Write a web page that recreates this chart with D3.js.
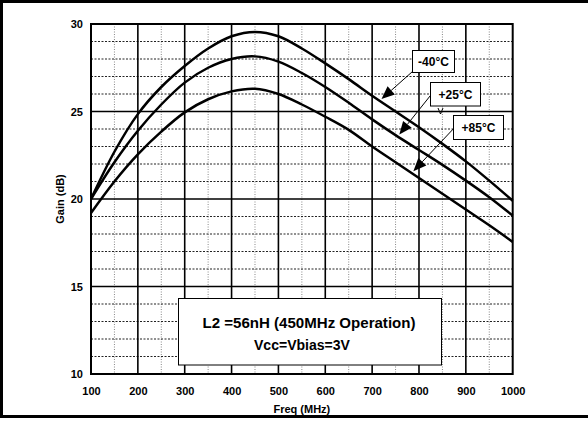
<!DOCTYPE html>
<html>
<head>
<meta charset="utf-8">
<script src="https://cdn.jsdelivr.net/npm/d3@7"></script>
<style>
  html, body { margin: 0; padding: 0; background: #fff; }
  svg { display: block; }
  text { font-family: "Liberation Sans", Arial, sans-serif; }
</style>
</head>
<body>
<svg id="chart" width="588" height="422"></svg>
<script>
// ---- data ----
const freq = [100,150,200,250,300,350,400,450,500,550,600,650,700,750,800,850,900,950,1000];
const gainM40 = [20.0,22.7,24.85,26.4,27.6,28.6,29.3,29.55,29.3,28.6,27.75,26.85,25.9,25.0,24.1,23.15,22.15,21.05,19.9];
const gainP25 = [20.0,22.1,23.9,25.4,26.65,27.5,28.0,28.15,27.85,27.2,26.4,25.5,24.55,23.65,22.8,21.95,21.05,20.1,19.05];
const gainP85 = [19.2,21.0,22.55,23.85,24.95,25.7,26.15,26.3,26.0,25.4,24.7,23.95,23.0,22.1,21.2,20.3,19.4,18.5,17.55];
const seriesNames = ["-40°C", "+25°C", "+85°C"];
const xTicks = [100,200,300,400,500,600,700,800,900,1000];
const yTicks = [10,15,20,25,30];
const xTitle = "Freq (MHz)";
const yTitle = "Gain (dB)";
const noteLines = ["L2 =56nH (450MHz Operation)", "Vcc=Vbias=3V"];

// ---- layout ----
const svg = d3.select("#chart");
const L = 91, R = 512.7, T = 24, B = 374;
const x = d3.scaleLinear().domain([100, 1000]).range([L, R]);
const y = d3.scaleLinear().domain([10, 30]).range([B, T]);

// outer frame (left, top, bottom)
svg.append("path")
  .attr("d", `M590,1.5 H1.5 V416.5 H590`)
  .attr("fill", "none").attr("stroke", "#000").attr("stroke-width", 3);

// minor grid
const g = svg.append("g");
d3.range(150, 1000, 100).forEach(v => {
  g.append("line").attr("x1", x(v)).attr("x2", x(v)).attr("y1", T).attr("y2", B)
    .attr("stroke", "#888").attr("stroke-width", 1).attr("stroke-dasharray", "1,1.5");
});
d3.range(11, 30, 1).filter(v => v % 5 !== 0).forEach(v => {
  g.append("line").attr("x1", L).attr("x2", R).attr("y1", y(v)).attr("y2", y(v))
    .attr("stroke", "#222").attr("stroke-width", 1).attr("stroke-dasharray", "2,1.5");
});
// major grid
xTicks.slice(1, -1).forEach(v => {
  g.append("line").attr("x1", x(v)).attr("x2", x(v)).attr("y1", T).attr("y2", B)
    .attr("stroke", "#000").attr("stroke-width", 1.6);
});
yTicks.slice(1, -1).forEach(v => {
  g.append("line").attr("x1", L).attr("x2", R).attr("y1", y(v)).attr("y2", y(v))
    .attr("stroke", "#000").attr("stroke-width", 1.6);
});
// plot frame
svg.append("rect").attr("x", L).attr("y", T).attr("width", R - L).attr("height", B - T)
  .attr("fill", "none").attr("stroke", "#000").attr("stroke-width", 2);

// axes labels via d3 axes (no domain / tick lines)
const xAxis = svg.append("g").attr("transform", `translate(0,${B})`)
  .call(d3.axisBottom(x).tickValues(xTicks).tickSize(0).tickPadding(13).tickFormat(d3.format("d")));
const yAxis = svg.append("g").attr("transform", `translate(${L},0)`)
  .call(d3.axisLeft(y).tickValues(yTicks).tickSize(0).tickPadding(8).tickFormat(d3.format("d")));
[xAxis, yAxis].forEach(a => {
  a.select(".domain").remove();
  a.selectAll("text").attr("font-size", 11).attr("font-weight", "bold")
    .attr("font-family", "Liberation Sans, Arial, sans-serif").attr("fill", "#000");
});

svg.append("text").attr("x", (L + R) / 2).attr("y", 413).attr("text-anchor", "middle")
  .attr("font-size", 11).attr("font-weight", "bold").text(xTitle);
svg.append("text").attr("transform", `translate(64,${(T + B) / 2}) rotate(-90)`)
  .attr("text-anchor", "middle").attr("font-size", 11).attr("font-weight", "bold").text(yTitle);

// curves
const line = d3.line().x((d, i) => x(freq[i])).y(d => y(d)).curve(d3.curveCatmullRom.alpha(0.5));
[gainM40, gainP25, gainP85].forEach(s => {
  svg.append("path").attr("d", line(s)).attr("fill", "none")
    .attr("stroke", "#000").attr("stroke-width", 2.5).attr("stroke-linejoin", "round");
});

// note box
svg.append("rect").attr("x", 178.5).attr("y", 298.5).attr("width", 263).attr("height", 66.5)
  .attr("fill", "#fff").attr("stroke", "#000").attr("stroke-width", 1);
svg.append("text").attr("x", 309).attr("y", 327.5).attr("text-anchor", "middle")
  .attr("font-size", 14).attr("font-weight", "bold")
  .attr("textLength", 213).attr("lengthAdjust", "spacingAndGlyphs").text(noteLines[0]);
svg.append("text").attr("x", 302).attr("y", 349.5).attr("text-anchor", "middle")
  .attr("font-size", 14).attr("font-weight", "bold")
  .attr("textLength", 96).attr("lengthAdjust", "spacingAndGlyphs").text(noteLines[1]);

// series labels with arrows (anchored to data points)
const labelDefs = [
  { name: seriesNames[0], bx: 412.5, by: 50.5, bw: 42, bh: 22, tipF: 720, s: gainM40 },
  { name: seriesNames[1], bx: 430.5, by: 82.5, bw: 50, bh: 23.5, tipF: 758, s: gainP25 },
  { name: seriesNames[2], bx: 453.5, by: 115.5, bw: 50, bh: 24, tipF: 788, s: gainP85 }
];
const interp = (s, f) => {
  const i = Math.min(freq.length - 2, Math.floor((f - 100) / 50));
  const t = (f - freq[i]) / 50;
  return s[i] + (s[i + 1] - s[i]) * t;
};
labelDefs.forEach((d, k) => {
  const tx = x(d.tipF), ty = y(interp(d.s, d.tipF)) - 3;
  const sx = d.bx, sy = k === 0 ? d.by + d.bh - 1 : d.by + d.bh * 0.55;
  const ang = Math.atan2(ty - sy, tx - sx);
  const hl = 13, hw = 5.5;
  const bx0 = tx - hl * Math.cos(ang), by0 = ty - hl * Math.sin(ang);
  svg.append("line").attr("x1", sx).attr("y1", sy).attr("x2", bx0).attr("y2", by0)
    .attr("stroke", "#000").attr("stroke-width", 1);
  const px = -Math.sin(ang) * hw, py = Math.cos(ang) * hw;
  svg.append("path")
    .attr("d", `M${tx},${ty} L${bx0 + px},${by0 + py} L${bx0 - px},${by0 - py} Z`)
    .attr("fill", "#000");
  svg.append("rect").attr("x", d.bx).attr("y", d.by).attr("width", d.bw).attr("height", d.bh)
    .attr("fill", "#fff").attr("stroke", "#000").attr("stroke-width", 1);
  svg.append("text").attr("x", d.bx + d.bw / 2).attr("y", d.by + d.bh / 2 + 4.5)
    .attr("text-anchor", "middle").attr("font-size", 12).attr("font-weight", "bold").text(d.name);
});
// small "v" mark under +25°C label
svg.append("path").attr("d", `M438,108 L440.5,114 L443,108`).attr("fill", "none")
  .attr("stroke", "#000").attr("stroke-width", 1);
</script>
</body>
</html>
